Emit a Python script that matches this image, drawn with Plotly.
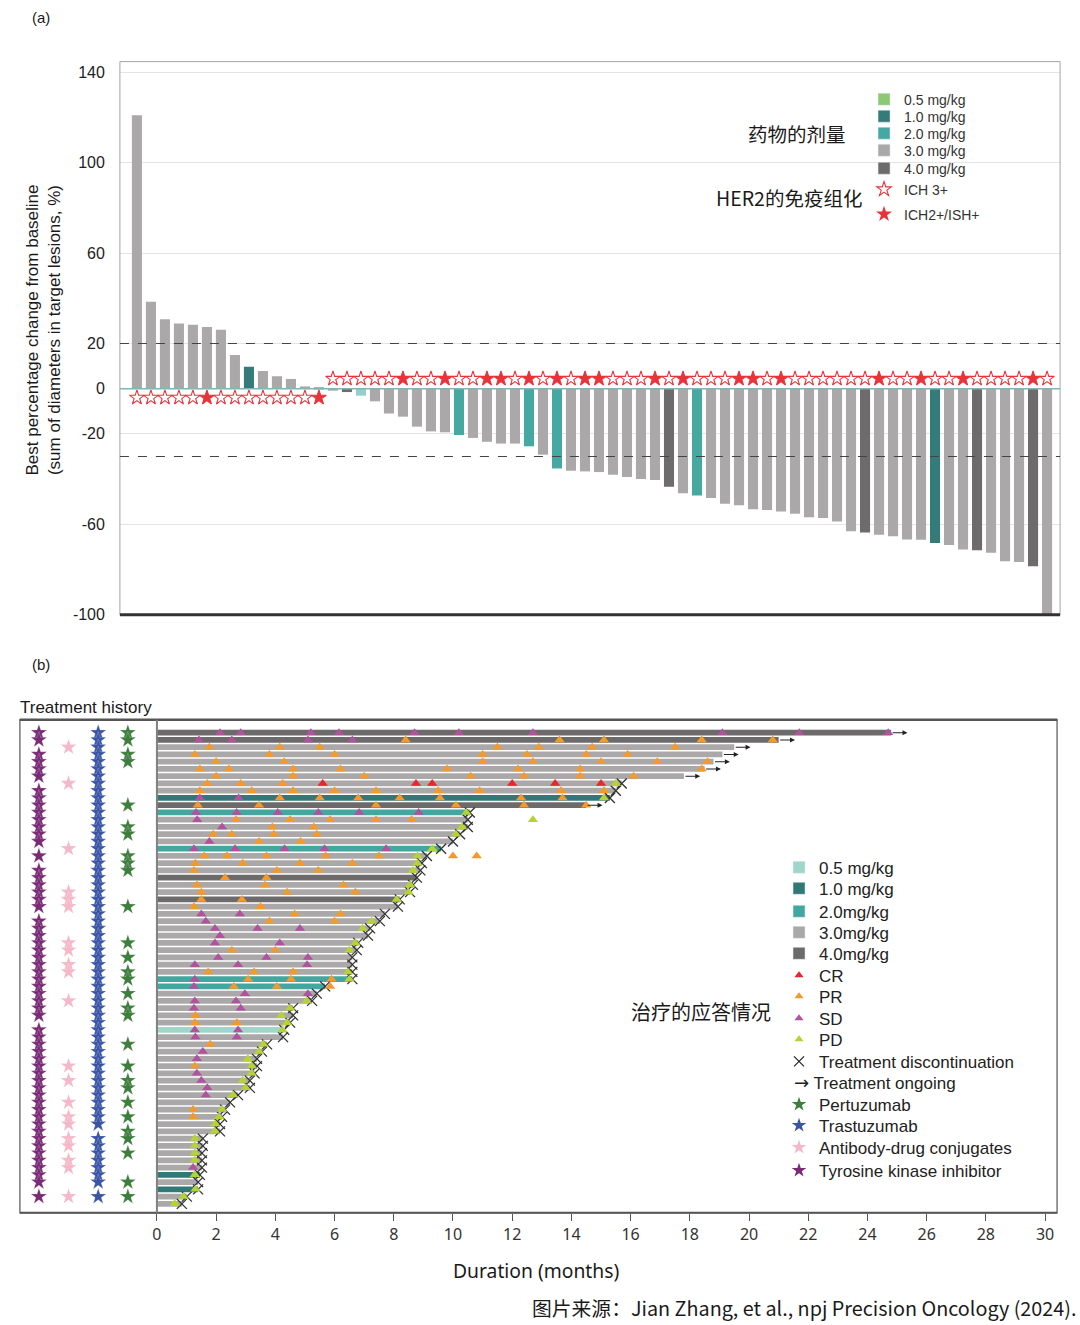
import plotly.graph_objects as go

W, H = 1080, 1325

# small empirical correction so that page pixels land where the reference has them
SX, OX = 0.9952, 5.1
SY, OY = 0.993, 0.43


def fx(p):
    return ((p - OX) / SX) / W


def fy(p):
    return 1 - ((p - OY) / SY) / H


# ---------------- Panel (a) data ----------------
best_change = [121, 38.5, 30.7, 28.8, 28.3, 27.3, 26.1, 14.9, 9.7, 7.8, 5.5, 4.3, 1.0, 0.7,
               -0.9, -1.5, -3.1, -5.6, -11.0, -12.4, -16.8, -18.9, -19.3, -20.5, -21.8, -23.5,
               -24.3, -24.3, -25.5, -29.2, -35.3, -36.3, -36.6, -36.9, -38.1, -39.1, -40.0, -40.4,
               -43.4, -46.3, -47.3, -48.4, -50.9, -51.6, -53.4, -53.7, -54.4, -55.3, -56.9, -57.2,
               -58.8, -63.1, -63.6, -64.6, -65.3, -66.7, -66.8, -68.3, -69.2, -71.2, -71.5, -72.6,
               -76.4, -76.7, -78.6, -100]
dose_a = ['3.0', '3.0', '3.0', '3.0', '3.0', '3.0', '3.0', '3.0', '1.0', '3.0', '3.0', '3.0', '3.0', '3.0',
          '3.0', '4.0', '0.5', '3.0', '3.0', '3.0', '3.0', '3.0', '3.0', '2.0', '3.0', '3.0',
          '3.0', '3.0', '2.0', '3.0', '2.0', '3.0', '3.0', '3.0', '3.0', '3.0', '3.0', '3.0',
          '4.0', '3.0', '2.0', '3.0', '3.0', '3.0', '3.0', '3.0', '3.0', '3.0', '3.0', '3.0',
          '3.0', '3.0', '4.0', '3.0', '3.0', '3.0', '3.0', '1.0', '3.0', '3.0', '4.0', '3.0',
          '3.0', '3.0', '4.0', '3.0']
her2_a = ['IHC3', 'IHC3', 'IHC3', 'IHC3', 'IHC3', 'ISH', 'IHC3', 'IHC3', 'IHC3', 'IHC3', 'IHC3', 'IHC3', 'IHC3', 'ISH',
          'IHC3', 'IHC3', 'IHC3', 'IHC3', 'IHC3', 'ISH', 'IHC3', 'IHC3', 'ISH', 'IHC3', 'IHC3', 'ISH',
          'ISH', 'IHC3', 'ISH', 'IHC3', 'ISH', 'IHC3', 'ISH', 'ISH', 'IHC3', 'IHC3', 'IHC3', 'ISH',
          'IHC3', 'ISH', 'IHC3', 'IHC3', 'IHC3', 'ISH', 'ISH', 'IHC3', 'ISH', 'IHC3', 'IHC3', 'IHC3',
          'IHC3', 'IHC3', 'IHC3', 'ISH', 'IHC3', 'IHC3', 'ISH', 'IHC3', 'IHC3', 'ISH', 'IHC3', 'IHC3',
          'IHC3', 'IHC3', 'ISH', 'IHC3']
y_ticks_a = [140, 100, 60, 20, 0, -20, -60, -100]
y_ticktext_a = ['140', '100', '60', '20', '0', '-20', '-60', '-100']

# ---------------- Panel (b) data ----------------
duration = [24.8, 21.0, 19.5, 19.1, 18.8, 18.5, 17.8, 15.7, 15.5, 15.3, 14.5, 10.57, 10.5, 10.5,
            10.24, 10.0, 9.6, 9.12, 8.95, 8.9, 8.78, 8.65, 8.55, 8.2, 8.14, 7.7, 7.53, 7.2, 7.13,
            6.8, 6.75, 6.6, 6.6, 6.6, 6.6, 5.68, 5.4, 5.24, 4.6, 4.6, 4.5, 4.3, 4.26, 3.72, 3.55,
            3.38, 3.38, 3.3, 3.14, 3.14, 2.74, 2.47, 2.3, 2.2, 2.13, 2.13, 1.55, 1.55, 1.52, 1.52,
            1.52, 1.45, 1.39, 1.39, 1.01, 0.84]
dose_b = ['4.0', '4.0', '3.0', '3.0', '3.0', '3.0', '3.0', '3.0', '3.0', '1.0', '4.0', '2.0', '3.0', '3.0',
          '3.0', '3.0', '2.0', '3.0', '3.0', '3.0', '4.0', '3.0', '3.0', '4.0', '3.0', '3.0', '3.0',
          '3.0', '3.0', '3.0', '3.0', '3.0', '3.0', '3.0', '2.0', '2.0', '3.0', '3.0', '3.0', '3.0',
          '3.0', '0.5', '3.0', '3.0', '3.0', '3.0', '3.0', '3.0', '3.0', '3.0', '3.0', '3.0', '3.0',
          '3.0', '3.0', '3.0', '3.0', '3.0', '3.0', '3.0', '3.0', '1.0', '3.0', '1.0', '3.0', '3.0']
ongoing_rows = [1, 2, 3, 4, 5, 6, 7, 11]

cr_rows = [8, 8, 8, 8, 8, 8]
cr_months = [5.6, 8.75, 9.3, 12.0, 13.45, 15.0]

pr_rows = [2, 2, 2, 2, 2,
           3, 3, 3, 3, 3, 3, 3,
           4, 4, 4, 4, 4, 4, 4,
           5, 5, 5, 5, 5, 5, 5,
           6, 6, 6, 6, 6, 6, 6, 6,
           7, 7, 7, 7, 7, 7, 7,
           8, 8, 8,
           9, 9, 9, 9, 9, 9, 9, 9, 9,
           10, 10, 10, 10, 10, 10, 10,
           11, 11, 11, 11, 11, 11,
           13, 13, 13, 13, 13,
           14, 14,
           15, 15, 15, 15,
           16, 16,
           18, 18, 18, 18, 18, 18, 18,
           19, 19, 19, 19,
           20, 20, 20,
           21, 21,
           22, 22, 22,
           23, 23, 23,
           24, 24,
           25, 25,
           26, 26,
           27, 27,
           31, 31,
           34, 34, 34,
           35, 35, 35,
           36, 36, 36,
           40,
           41, 41,
           44,
           47,
           53,
           54]
pr_months = [8.4, 13.6, 15.1, 18.4, 20.8,
             1.77, 4.15, 5.5, 11.5, 12.9, 14.7, 17.5,
             1.28, 3.8, 6.0, 11.0, 12.5, 14.5, 15.9,
             2.0, 4.3, 11.0, 12.7, 15.0, 16.9, 18.6,
             1.45, 2.43, 4.6, 6.2, 9.8, 12.2, 14.3, 18.4,
             2.0, 4.6, 7.0, 10.6, 12.4, 14.3, 16.1,
             1.7, 2.83, 4.25,
             1.45, 3.2, 4.6, 6.0, 7.4, 9.5, 10.9, 13.65, 15.1,
             4.15, 5.5, 6.8, 8.2, 9.56, 12.3, 13.7,
             1.38, 3.45, 7.4, 10.1, 12.4, 14.5,
             2.67, 4.5, 5.85, 7.4, 8.6,
             3.9, 5.3,
             1.9, 2.53, 3.95, 5.4,
             3.45, 4.85,
             1.6, 2.37, 3.7, 5.7, 7.5, 10.0, 10.8,
             1.3, 2.9, 4.83, 6.6,
             1.25, 4.05, 5.45,
             2.3, 3.7,
             1.35, 3.65, 6.3,
             1.5, 4.4, 6.7,
             1.5, 2.87,
             1.25, 3.5,
             4.65, 6.2,
             3.8, 6.0,
             2.53, 4.0,
             1.73, 3.28, 4.6,
             3.08, 4.53, 5.9,
             2.6, 4.05, 5.85,
             1.3,
             1.28, 2.7,
             1.8,
             1.28,
             1.22,
             1.22]

sd_rows = [1, 1, 1, 1, 1, 1, 1, 1, 1, 1,
           2, 2, 2, 2,
           10, 10,
           12, 12, 12, 12, 12, 12,
           13, 14, 16,
           17, 17, 17, 17, 17,
           26, 26, 27,
           28, 28, 28,
           29,
           30, 30,
           32, 32, 32,
           33, 33, 33,
           35, 36,
           37, 37,
           38, 38,
           39, 39,
           42, 42,
           43, 43,
           45, 46, 48, 49, 50, 51, 61]
sd_months = [2.13, 2.83, 5.2, 6.15, 8.7, 10.2, 12.7, 19.1, 21.7, 24.7,
             1.42, 2.53, 5.1, 6.6,
             1.45, 2.76,
             1.32, 2.69, 4.08, 5.45, 6.83, 8.84,
             1.36, 2.2, 1.77,
             1.25, 2.64, 4.31, 5.66, 7.74,
             1.5, 2.8, 1.65,
             1.96, 3.4, 4.83,
             2.13,
             1.96, 4.15,
             2.07, 3.7, 5.1,
             1.28, 2.74, 5.07,
             1.28, 1.25,
             2.97, 5.1,
             1.28, 2.67,
             1.25, 2.83,
             1.28, 2.74,
             1.3, 2.7,
             1.55, 1.35, 1.35, 1.5, 1.7, 1.65, 1.22]

pd_rows = [8, 10, 12, 13, 14, 15, 17, 18, 19, 20, 22, 23, 24, 27, 28, 30, 31, 34, 35, 38, 39,
           40, 41, 42, 44, 45, 46, 47, 48, 49, 50, 51, 53, 54, 55, 56, 57, 58, 59, 60, 62, 64, 65, 66]
pd_months = [15.5, 15.1, 10.45, 12.7, 10.3, 10.1, 9.3, 8.8, 8.8, 8.65, 8.55, 8.5, 8.1, 7.25, 6.95,
             6.7, 6.5, 6.45, 6.5, 5.05, 4.5, 4.2, 4.4, 4.25, 3.6, 3.45, 3.07, 3.2, 3.2, 2.9, 3.0,
             2.57, 2.2, 2.1, 1.97, 1.95, 1.28, 1.28, 1.28, 1.28, 1.28, 1.3, 0.9, 0.6]

# treatment history (rows with prior therapy)
tki_rows = [1, 2, 4, 5, 6, 7, 9, 10, 11, 12, 13, 14, 15, 16, 18, 20, 21, 22, 23, 24, 25,
            27, 28, 29, 30, 31, 32, 33, 34, 35, 36, 37, 38, 39, 40, 42, 43, 44, 45, 46, 47,
            48, 49, 50, 51, 52, 53, 54, 55, 56, 57, 58, 59, 60, 61, 62, 63, 65]
adc_rows = [3, 8, 17, 23, 24, 25, 30, 31, 33, 34, 38, 47, 49, 52, 54, 55, 57, 58, 60, 61, 65]
tras_rows = [1, 2, 3, 4, 5, 6, 7, 8, 9, 10, 11, 12, 13, 14, 15, 16, 17, 18, 19, 20, 21, 22,
             23, 24, 25, 26, 27, 28, 29, 30, 31, 32, 33, 34, 35, 36, 37, 38, 39, 40, 41, 42,
             43, 44, 45, 46, 47, 48, 49, 50, 51, 52, 53, 54, 55, 57, 58, 59, 60, 61, 62, 63, 65]
pert_rows = [1, 2, 4, 5, 11, 14, 15, 18, 19, 20, 25, 30, 32, 34, 35, 37, 39, 40, 44, 47, 49,
             50, 52, 54, 56, 57, 59, 63, 65]
x_ticks_b = [0, 2, 4, 6, 8, 10, 12, 14, 16, 18, 20, 22, 24, 26, 28, 30]

# ---------------- styles ----------------
col_a = {'0.5': '#93d1c8', '1.0': '#357b79', '2.0': '#46a9a1', '3.0': '#aba8a9', '4.0': '#6e6b6c'}
col_a_leg = {'0.5': '#8dc872', '1.0': '#357b79', '2.0': '#46a9a1', '3.0': '#aba8a9', '4.0': '#6e6b6c'}
col_b = {'0.5': '#a0d6ca', '1.0': '#317876', '2.0': '#42a89f', '3.0': '#aba8a9', '4.0': '#6d6a6b'}
resp_col = {'CR': '#e8262d', 'PR': '#f39a2b', 'SD': '#b0529e', 'PD': '#b6d336'}
hist_col = ['#7a2b76', '#f5b8c9', '#3b55a6', '#3d7e3c']
RED = '#e8333a'
LATIN = 'Liberation Sans, Arial, sans-serif'
CJK = 'Noto Sans CJK SC, sans-serif'

fig = go.Figure()
legend_layout = {}


def legend_item(trace, lid, x_px, y_px, size, color='#222'):
    trace.legend = lid
    fig.add_trace(trace)
    legend_layout[lid] = dict(x=fx(x_px), y=fy(y_px), xanchor='left', yanchor='middle',
                              bgcolor='rgba(0,0,0,0)', itemwidth=30,
                              font=dict(size=size, family=LATIN, color=color))


# ---------- Panel (a) ----------
idx_a = list(range(1, len(best_change) + 1))
fig.add_trace(go.Bar(x=idx_a, y=best_change, width=0.72,
                     marker=dict(color=[col_a[d] for d in dose_a], line=dict(width=0)),
                     showlegend=False, xaxis='x', yaxis='y', hoverinfo='skip'))
star_y = [-4.0 if v >= 0 else 4.4 for v in best_change]
for code, sym in [('IHC3', 'star-open'), ('ISH', 'star')]:
    xs = [i for i, h in zip(idx_a, her2_a) if h == code]
    ys = [s for s, h in zip(star_y, her2_a) if h == code]
    fig.add_trace(go.Scatter(x=xs, y=ys, mode='markers', showlegend=False, xaxis='x', yaxis='y',
                             marker=dict(symbol=sym, size=11, color=RED,
                                         line=dict(color=RED, width=1.1))))

# legend (a): one legend per entry so spacing matches
top_leg_y = [100, 117, 134, 151, 169, 190, 215]
top_items = []
for d in ['0.5', '1.0', '2.0', '3.0', '4.0']:
    top_items.append(go.Bar(x=[None], y=[None], name=d + ' mg/kg', marker_color=col_a_leg[d],
                            xaxis='x', yaxis='y'))
top_items.append(go.Scatter(x=[None], y=[None], mode='markers', name='ICH 3+',
                            marker=dict(symbol='star-open', size=11, color=RED,
                                        line=dict(color=RED, width=1.1)), xaxis='x', yaxis='y'))
top_items.append(go.Scatter(x=[None], y=[None], mode='markers', name='ICH2+/ISH+',
                            marker=dict(symbol='star', size=12, color=RED, line=dict(width=0)),
                            xaxis='x', yaxis='y'))
for k, (tr, yp) in enumerate(zip(top_items, top_leg_y)):
    lid = 'legend' if k == 0 else 'legend%d' % (k + 1)
    legend_item(tr, lid, 864, yp, 14, '#333')

# ---------- Panel (b) swimmer ----------
rows = list(range(1, len(duration) + 1))
fig.add_trace(go.Bar(x=duration, y=rows, base=0, orientation='h', width=0.8,
                     marker=dict(color=[col_b[d] for d in dose_b], line=dict(width=0)),
                     showlegend=False, xaxis='x3', yaxis='y3', hoverinfo='skip'))
disc_rows = [r for r in rows if r not in ongoing_rows]
fig.add_trace(go.Scatter(x=[duration[r - 1] for r in disc_rows], y=disc_rows, mode='markers',
                         showlegend=False, xaxis='x3', yaxis='y3',
                         marker=dict(symbol='x-thin', size=10, line=dict(color='#333333', width=1.3))))
for name, rr, mm in [('CR', cr_rows, cr_months), ('PR', pr_rows, pr_months),
                     ('SD', sd_rows, sd_months), ('PD', pd_rows, pd_months)]:
    fig.add_trace(go.Scatter(x=mm, y=rr, mode='markers', showlegend=False, xaxis='x3', yaxis='y3',
                             marker=dict(symbol='triangle-up', size=9, color=resp_col[name],
                                         line=dict(width=0))))

# treatment history stars
for k, (col, rr) in enumerate(zip(hist_col, [tki_rows, adc_rows, tras_rows, pert_rows])):
    fig.add_trace(go.Scatter(x=[k + 1] * len(rr), y=rr, mode='markers', showlegend=False,
                             xaxis='x2', yaxis='y2',
                             marker=dict(symbol='star', size=12, color=col,
                                         line=dict(color='rgba(255,255,255,0.5)', width=0.4))))

# legend (b): one legend per entry
bot_leg_y = [868, 889, 912, 933, 954, 976, 997, 1019, 1040, 1062, 1083, 1105, 1126, 1148, 1171]
bot_items = []
for d, lab in [('0.5', '0.5 mg/kg'), ('1.0', '1.0 mg/kg'), ('2.0', '2.0mg/kg'),
               ('3.0', '3.0mg/kg'), ('4.0', '4.0mg/kg')]:
    bot_items.append(go.Bar(x=[None], y=[None], name=lab, marker_color=col_b[d],
                            xaxis='x3', yaxis='y3'))
for name in ['CR', 'PR', 'SD', 'PD']:
    bot_items.append(go.Scatter(x=[None], y=[None], mode='markers', name=name,
                                marker=dict(symbol='triangle-up', size=8, color=resp_col[name]),
                                xaxis='x3', yaxis='y3'))
bot_items.append(go.Scatter(x=[None], y=[None], mode='markers', name='Treatment discontinuation',
                            xaxis='x3', yaxis='y3',
                            marker=dict(symbol='x-thin', size=10, line=dict(color='#222', width=1.2))))
bot_items.append(go.Scatter(x=[None], y=[None], mode='markers',
                            name='<span style="font-family:DejaVu Sans;font-size:18px">→</span> Treatment ongoing',
                            xaxis='x3', yaxis='y3',
                            marker=dict(symbol='circle', size=1, color='rgba(0,0,0,0)')))
for lab, col in zip(['Pertuzumab', 'Trastuzumab', 'Antibody-drug conjugates', 'Tyrosine kinase inhibitor'],
                    [hist_col[3], hist_col[2], hist_col[1], hist_col[0]]):
    bot_items.append(go.Scatter(x=[None], y=[None], mode='markers', name=lab,
                                marker=dict(symbol='star', size=11, color=col),
                                xaxis='x3', yaxis='y3'))
for k, (tr, yp) in enumerate(zip(bot_items, bot_leg_y)):
    lid = 'legend%d' % (k + 8)
    xl = 754 if '→' in tr.name else 779
    legend_item(tr, lid, xl, yp, 17)

# ongoing arrows
annotations = []
for r in ongoing_rows:
    e = duration[r - 1]
    annotations.append(dict(x=e + 0.55, y=r, ax=e, ay=r, xref='x3', yref='y3', axref='x3', ayref='y3',
                            text='', showarrow=True, arrowhead=2, arrowsize=0.9, arrowwidth=1.1,
                            arrowcolor='#222', standoff=0, startstandoff=0))


def txt(s, x, y, size, family=LATIN, xanchor='center', angle=0, color='#1a1a1a'):
    annotations.append(dict(text=s, x=fx(x), y=fy(y), xref='paper', yref='paper', showarrow=False,
                            xanchor=xanchor, yanchor='middle', textangle=angle,
                            font=dict(size=size, family=family, color=color)))


txt('(a)', 41, 18, 15)
txt('(b)', 41, 665, 15)
txt('药物的剂量', 797, 134, 19.5, CJK)
txt('HER2的免疫组化', 789, 198, 19.5, CJK)
txt('治疗的应答情况', 701, 1012, 20, CJK)
txt('Treatment history', 86, 708, 17)
txt('Best percentage change from baseline<br>(sum of diameters in target lesions, %)', 44, 330, 17,
    angle=-90)
txt('Duration (months)', 536, 1271, 19.3, 'Noto Sans, sans-serif')
txt('图片来源：Jian Zhang, et al., npj Precision Oncology (2024).', 1078, 1308, 19.8, CJK, xanchor='right')

shapes = [
    # panel (a) frame
    dict(type='rect', xref='x domain', yref='y domain', x0=0, x1=1, y0=0, y1=1,
         line=dict(color='#a5a5a5', width=1)),
    dict(type='line', xref='x domain', yref='y domain', x0=0, x1=1, y0=0, y1=0,
         line=dict(color='#333333', width=3)),
    dict(type='line', xref='x domain', yref='y', x0=0, x1=1, y0=0, y1=0,
         line=dict(color='#7fb5b2', width=1.5)),
    dict(type='line', xref='x domain', yref='y', x0=0, x1=1, y0=20, y1=20,
         line=dict(color='#444444', width=1.1, dash='dash')),
    dict(type='line', xref='x domain', yref='y', x0=0, x1=1, y0=-30, y1=-30,
         line=dict(color='#444444', width=1.1, dash='dash')),
    # panel (b) frame
    dict(type='rect', xref='paper', yref='paper', x0=fx(20), x1=fx(1057), y0=fy(1213), y1=fy(720),
         line=dict(color='#777777', width=1.5)),
    dict(type='line', xref='paper', yref='paper', x0=fx(20), x1=fx(1057), y0=fy(720), y1=fy(720),
         line=dict(color='#555555', width=2.5)),
    dict(type='line', xref='paper', yref='paper', x0=fx(20), x1=fx(1057), y0=fy(1213), y1=fy(1213),
         line=dict(color='#555555', width=2)),
    dict(type='line', xref='paper', yref='paper', x0=fx(157), x1=fx(157), y0=fy(1213), y1=fy(720),
         line=dict(color='#808080', width=2)),
]

ROW_RANGE = [67.24, -0.79]
fig.update_layout(
    width=W, height=H, margin=dict(l=0, r=0, t=0, b=0),
    paper_bgcolor='white', plot_bgcolor='white', barmode='overlay',
    font=dict(family=LATIN, color='#1a1a1a'),
    xaxis=dict(domain=[fx(120), fx(1060)], range=[-0.214, 66.93], visible=False, anchor='y'),
    yaxis=dict(domain=[fy(615), fy(62)], range=[-100, 144.7], tickvals=y_ticks_a, ticktext=y_ticktext_a,
               showgrid=True, gridcolor='#e4e4e4', gridwidth=1, zeroline=False, showline=False,
               ticks='', ticklabelstandoff=14, tickfont=dict(size=16, family=LATIN, color='#222'),
               anchor='x'),
    xaxis2=dict(domain=[fx(20), fx(157)], range=[0.36, 4.98], visible=False, anchor='y2'),
    yaxis2=dict(domain=[fy(1213), fy(720)], range=ROW_RANGE, visible=False, anchor='x2'),
    xaxis3=dict(domain=[fx(157), fx(1057)], range=[0, 30.405], tickvals=x_ticks_b, ticks='outside',
                ticklen=7, tickcolor='#555', tickwidth=1, showgrid=False, zeroline=False, showline=False,
                tickfont=dict(size=16, family='Noto Sans, sans-serif', color='#333'), anchor='y3'),
    yaxis3=dict(domain=[fy(1213), fy(720)], range=ROW_RANGE, visible=False, anchor='x3'),
    annotations=annotations, shapes=shapes,
)
fig.update_layout(**legend_layout)

fig.write_html('out.html', config={'displayModeBar': False},
               post_script="document.body.style.margin='0';")
